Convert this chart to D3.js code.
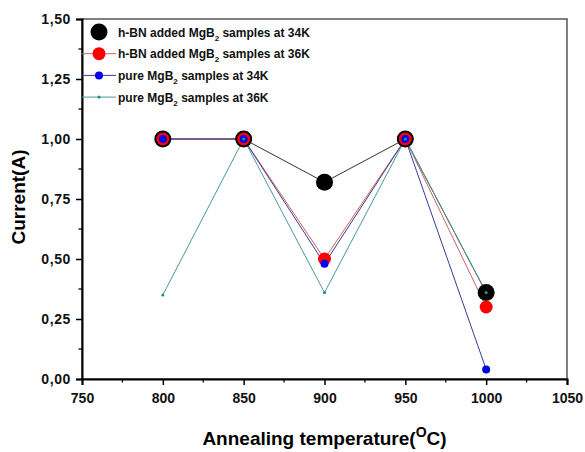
<!DOCTYPE html>
<html>
<head>
<meta charset="utf-8">
<script src="https://cdn.jsdelivr.net/npm/d3@7"></script>
<style>
  body { margin: 0; background: #fff; }
  text { font-family: "Liberation Sans", Arial, sans-serif; font-weight: bold; }
</style>
</head>
<body>
<div id="chart"></div>
<script>
const temps = [800, 850, 900, 950, 1000];
const hbn34 = [1.00, 1.00, 0.82, 1.00, 0.36];
const hbn36 = [1.00, 1.00, 0.50, 1.00, 0.30];
const pure34 = [1.00, 1.00, 0.48, 1.00, 0.04];
const pure36 = [0.35, 1.00, 0.36, 1.00, 0.36];
const xTicks = [750, 800, 850, 900, 950, 1000, 1050];
const yTicks = [0, 0.25, 0.5, 0.75, 1.0, 1.25, 1.5];

const series = [
    { name: "h-BN added MgB", tail: " samples at 34K", values: hbn34, colour: "#000000", line: "#333", r: 8.5 },
    { name: "h-BN added MgB", tail: " samples at 36K", values: hbn36, colour: "#ff0000", line: "#d06060", r: 6.5 },
    { name: "pure MgB", tail: " samples at 34K", values: pure34, colour: "#0000ee", line: "#3a3a9a", r: 4 },
    { name: "pure MgB", tail: " samples at 36K", values: pure36, colour: "#2e8b8b", line: "#4a9a9a", r: 1.6 }
];

const margin = { top: 19, right: 18, bottom: 73, left: 82 },
    width = 585 - margin.left - margin.right,
    height = 452 - margin.top - margin.bottom;

const svg = d3.select("#chart")
    .append("svg")
        .attr("width", 585)
        .attr("height", 452)
    .append("g")
        .attr("transform", `translate(${margin.left},${margin.top})`);

const x = d3.scaleLinear().domain([750, 1050]).range([0, width]);
const y = d3.scaleLinear().domain([0, 1.5]).range([height, 0]);

// frame
svg.append("rect")
    .attr("width", width)
    .attr("height", height)
    .attr("fill", "none")
    .attr("stroke", "#555")
    .attr("stroke-width", 1.5);

// minor ticks
const xMinor = d3.range(775, 1050, 50);
const yMinor = d3.range(0.125, 1.5, 0.25);
svg.append("g").selectAll("line").data(xMinor).join("line")
    .attr("x1", d => x(d)).attr("x2", d => x(d))
    .attr("y1", height).attr("y2", height + 3.5)
    .attr("stroke", "#000").attr("stroke-width", 1.3);
svg.append("g").selectAll("line").data(yMinor).join("line")
    .attr("x1", 0).attr("x2", -3.5)
    .attr("y1", d => y(d)).attr("y2", d => y(d))
    .attr("stroke", "#000").attr("stroke-width", 1.3);

const xAxisGroup = svg.append("g")
    .attr("transform", `translate(0,${height})`)
    .call(d3.axisBottom(x).tickValues(xTicks).tickSize(6).tickPadding(8).tickFormat(d3.format("d")));

const yAxisGroup = svg.append("g")
    .call(d3.axisLeft(y).tickValues(yTicks).tickSize(6).tickPadding(5)
        .tickFormat(d => d3.format(".2f")(d).replace(".", ",")));

[xAxisGroup, yAxisGroup].forEach(g => {
    g.select(".domain").attr("stroke", "#000").attr("stroke-width", 2);
    g.selectAll(".tick line").attr("stroke", "#000").attr("stroke-width", 1.5);
    g.selectAll("text").style("font-size", "14px").attr("fill", "#111");
});
yAxisGroup.selectAll("text").style("letter-spacing", "0.6px");

// data series
const line = d3.line()
    .x((d, i) => x(temps[i]))
    .y(d => y(d));

series.forEach(s => {
    svg.append("path")
        .datum(s.values)
        .attr("fill", "none")
        .attr("stroke", s.line)
        .attr("stroke-width", 1)
        .attr("d", line);
});
series.forEach(s => {
    svg.append("g").selectAll("circle").data(s.values).join("circle")
        .attr("cx", (d, i) => x(temps[i]))
        .attr("cy", d => y(d))
        .attr("r", s.r)
        .attr("fill", s.colour);
});

// legend
const legend = svg.append("g");
series.forEach((s, i) => {
    const ly = 13 + i * 21.7;
    if (i > 0) {
        legend.append("line")
            .attr("x1", 0).attr("x2", 34)
            .attr("y1", ly).attr("y2", ly)
            .attr("stroke", s.line).attr("stroke-width", 1);
    }
    legend.append("circle")
        .attr("cx", 17).attr("cy", ly).attr("r", s.r).attr("fill", s.colour);
    const t = legend.append("text")
        .attr("x", 36).attr("y", ly + 4.5)
        .style("font-size", "12px")
        .attr("fill", "#111");
    t.append("tspan").text(s.name);
    t.append("tspan").attr("dy", 4).style("font-size", "8px").text("2");
    t.append("tspan").attr("dy", -4).text(s.tail);
});

// axis titles
svg.append("text")
    .attr("transform", "rotate(-90)")
    .attr("x", -height / 2 + 2)
    .attr("y", -57)
    .attr("text-anchor", "middle")
    .style("font-size", "19px")
    .text("Current(A)");

const xt = svg.append("text")
    .attr("x", width / 2 + 0)
    .attr("y", height + 66)
    .attr("text-anchor", "middle")
    .style("font-size", "19px");
xt.append("tspan").text("Annealing temperature(");
xt.append("tspan").attr("dy", -8).style("font-size", "14px").text("O");
xt.append("tspan").attr("dy", 8).text("C)");
</script>
</body>
</html>
